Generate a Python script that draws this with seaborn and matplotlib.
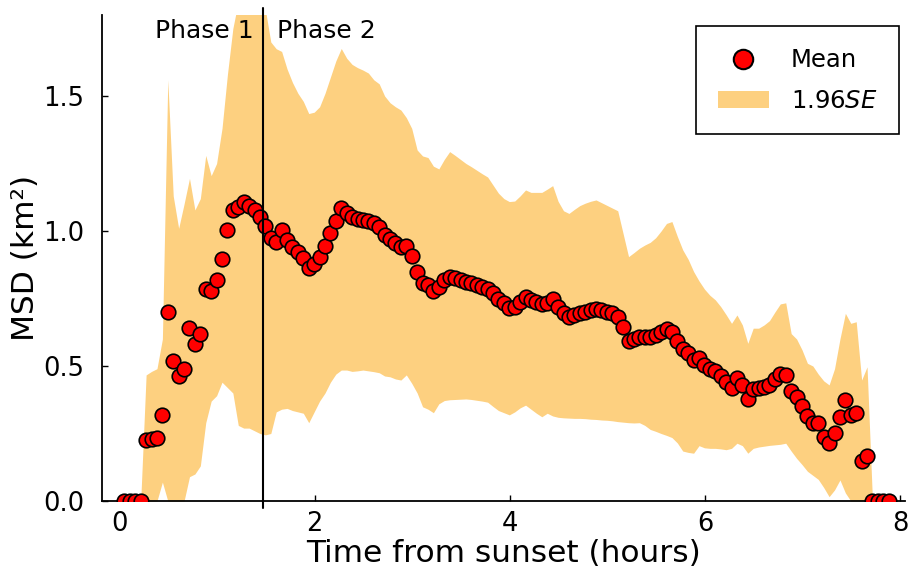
import numpy as np
import matplotlib
matplotlib.use("Agg")
import matplotlib.pyplot as plt
from matplotlib.lines import Line2D
from matplotlib.patches import Patch
import seaborn as sns

# Sampling grid: one record every 200 s (1/18 h), starting 3 min after sunset
SAMPLE_START_H = 0.05
SAMPLE_STEP_H = 1 / 18

# Mean squared displacement (km^2) per time step
msd_mean = [
    0, 0, 0, 0, 0.226, 0.228, 0.235, 0.319, 0.70, 0.52, 0.463, 0.49,
    0.64, 0.58, 0.62, 0.784, 0.779, 0.819, 0.897, 1.004, 1.078, 1.088, 1.106, 1.093,
    1.078, 1.051, 1.019, 0.973, 0.960, 1.004, 0.967, 0.942, 0.921, 0.899, 0.862, 0.878,
    0.905, 0.944, 0.994, 1.037, 1.084, 1.065, 1.051, 1.043, 1.041, 1.038, 1.031, 1.016,
    0.985, 0.969, 0.954, 0.942, 0.944, 0.909, 0.849, 0.809, 0.80, 0.779, 0.794, 0.819,
    0.831, 0.825, 0.819, 0.812, 0.809, 0.80, 0.794, 0.784, 0.769, 0.747, 0.732, 0.714,
    0.72, 0.738, 0.757, 0.744, 0.738, 0.73, 0.732, 0.748, 0.72, 0.695, 0.683, 0.689,
    0.695, 0.701, 0.707, 0.711, 0.707, 0.701, 0.695, 0.683, 0.646, 0.594, 0.599, 0.606,
    0.606, 0.609, 0.615, 0.627, 0.636, 0.627, 0.594, 0.562, 0.547, 0.522, 0.528, 0.504,
    0.488, 0.483, 0.463, 0.442, 0.42, 0.454, 0.43, 0.377, 0.414, 0.417, 0.423, 0.43,
    0.451, 0.47, 0.467, 0.409, 0.386, 0.352, 0.315, 0.29, 0.288, 0.238, 0.216, 0.251,
    0.31, 0.374, 0.319, 0.327, 0.149, 0.167, 0, 0, 0, 0,
]

# Upper and lower limits of the 1.96 SE interval
se_upper = [
    0, 0, 0, 0, 0.467, 0.48, 0.49, 0.60, 1.56, 1.13, 1.01, 1.10,
    1.195, 1.078, 1.12, 1.28, 1.205, 1.25, 1.38, 1.58, 1.75, 1.85, 1.95, 2.0,
    2.0, 1.95, 1.82, 1.70, 1.675, 1.665, 1.60, 1.55, 1.51, 1.48, 1.435, 1.44,
    1.46, 1.51, 1.57, 1.63, 1.676, 1.64, 1.617, 1.605, 1.596, 1.585, 1.56, 1.545,
    1.50, 1.475, 1.46, 1.448, 1.42, 1.38, 1.30, 1.278, 1.272, 1.24, 1.23, 1.265,
    1.294, 1.28, 1.265, 1.25, 1.238, 1.225, 1.212, 1.20, 1.17, 1.14, 1.12, 1.109,
    1.111, 1.13, 1.152, 1.143, 1.143, 1.143, 1.155, 1.168, 1.11, 1.075, 1.065, 1.08,
    1.094, 1.103, 1.11, 1.115, 1.105, 1.095, 1.085, 1.075, 0.99, 0.905, 0.92, 0.936,
    0.948, 0.958, 0.975, 1.0, 1.028, 1.035, 0.98, 0.93, 0.895, 0.85, 0.815, 0.785,
    0.762, 0.745, 0.72, 0.69, 0.658, 0.689, 0.652, 0.584, 0.64, 0.64, 0.652, 0.668,
    0.70, 0.73, 0.734, 0.62, 0.60, 0.56, 0.51, 0.50, 0.47, 0.445, 0.43, 0.49,
    0.60, 0.695, 0.658, 0.664, 0.448, 0.497, 0, 0, 0, 0,
]
se_lower = [
    0, 0, 0, 0, 0, 0, 0, 0.07, 0, 0, 0, 0,
    0.09, 0.10, 0.13, 0.29, 0.37, 0.39, 0.44, 0.42, 0.40, 0.28, 0.27, 0.27,
    0.26, 0.25, 0.245, 0.25, 0.33, 0.34, 0.343, 0.335, 0.33, 0.325, 0.29, 0.33,
    0.37, 0.40, 0.44, 0.47, 0.485, 0.485, 0.48, 0.482, 0.485, 0.482, 0.479, 0.475,
    0.463, 0.46, 0.452, 0.448, 0.467, 0.436, 0.40, 0.349, 0.34, 0.327, 0.36, 0.372,
    0.375, 0.376, 0.377, 0.378, 0.376, 0.373, 0.37, 0.366, 0.35, 0.335, 0.327, 0.319,
    0.33, 0.345, 0.355, 0.34, 0.325, 0.312, 0.325, 0.315, 0.31, 0.308, 0.307, 0.306,
    0.306, 0.305, 0.303, 0.302, 0.30, 0.299, 0.297, 0.294, 0.292, 0.29, 0.289, 0.29,
    0.28, 0.265, 0.258, 0.25, 0.243, 0.235, 0.215, 0.185, 0.18, 0.177, 0.205, 0.197,
    0.195, 0.195, 0.193, 0.19, 0.195, 0.214, 0.205, 0.177, 0.195, 0.2, 0.203, 0.206,
    0.208, 0.21, 0.214, 0.185, 0.158, 0.135, 0.11, 0.095, 0.08, 0.05, 0.016, 0.041,
    0.078, 0.03, 0, 0, 0, 0, 0, 0, 0, 0,
]

phase_boundary_h = 1.47
phase_labels = ["Phase 1", "Phase 2"]
x_ticks = [0, 2, 4, 6, 8]
y_ticks = [0.0, 0.5, 1.0, 1.5]

hours = np.round(SAMPLE_START_H + SAMPLE_STEP_H * np.arange(len(msd_mean)), 4)

sns.set_style("ticks")
plt.rcParams["font.family"] = ["DejaVu Sans"]
plt.rcParams["text.color"] = "black"
plt.rcParams["axes.labelcolor"] = "black"
plt.rcParams["xtick.color"] = "black"
plt.rcParams["ytick.color"] = "black"

band_color = "#fdd080"

fig = plt.figure(figsize=(9.12, 5.75), dpi=100)
ax = fig.add_axes([102 / 912, 1 - 501 / 575, (905 - 102) / 912, (501 - 15) / 575])

ax.fill_between(hours, se_lower, se_upper, color=band_color, linewidth=0, zorder=1)
sns.scatterplot(x=hours, y=msd_mean, ax=ax, s=110, color="red",
                edgecolor="black", linewidth=1.2, zorder=3, legend=False)

ax.axvline(phase_boundary_h, ymin=-0.015, ymax=1.015, color="black",
           linewidth=1.5, clip_on=False, zorder=4)
ax.annotate(phase_labels[0], xy=(phase_boundary_h, 1.74), xytext=(-7, 0),
            textcoords="offset points", ha="right", va="center", fontsize=18,
            color="black")
ax.annotate(phase_labels[1], xy=(phase_boundary_h, 1.74), xytext=(10, 0),
            textcoords="offset points", ha="left", va="center", fontsize=18,
            color="black")

ax.set_xlim(-0.18, 8.05)
ax.set_ylim(0, 1.8)
ax.set_xticks(x_ticks)
ax.set_yticks(y_ticks)
ax.set_yticklabels([f"{v:.1f}" for v in y_ticks])
ax.tick_params(direction="in", length=4, width=1, labelsize=18.5,
               colors="black", labelcolor="black")
ax.tick_params(axis="x", pad=7)
ax.tick_params(axis="y", pad=13)
sns.despine(ax=ax)
for side in ("left", "bottom"):
    ax.spines[side].set_linewidth(1.3)
    ax.spines[side].set_color("black")

ax.set_xlabel("Time from sunset (hours)", fontsize=22.5, labelpad=2, color="black")
ax.set_ylabel("MSD (km²)", fontsize=22.5, labelpad=2, color="black")

handles = [
    Line2D([], [], linestyle="none", marker="o", markersize=14,
           markerfacecolor="red", markeredgecolor="black", markeredgewidth=1.5),
    Patch(facecolor=band_color, edgecolor="none"),
]
leg = ax.legend(handles, ["Mean", "1.96$SE$"], loc="upper right",
                bbox_to_anchor=(0.993, 0.977), borderaxespad=0, fontsize=17.5,
                frameon=True, fancybox=False, framealpha=1, edgecolor="black",
                handlelength=2.1, handletextpad=0.9, borderpad=0.9,
                labelspacing=0.68)
leg.get_frame().set_linewidth(1.2)
for t in leg.get_texts():
    t.set_color("black")

fig.savefig("out.png", dpi=100)
